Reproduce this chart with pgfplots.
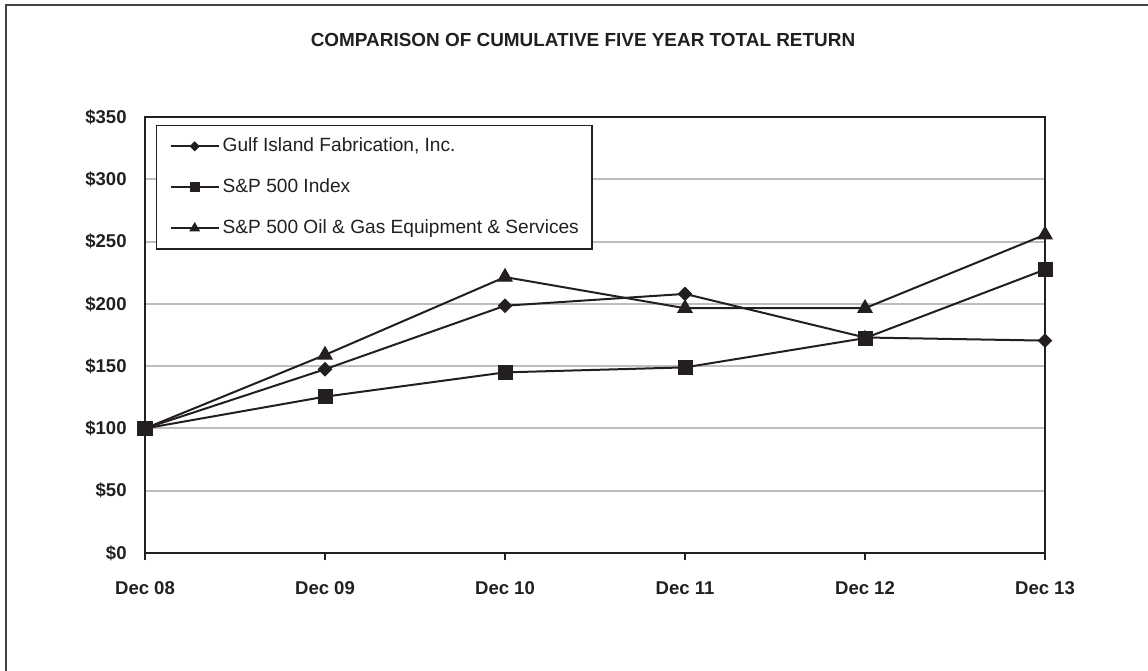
\documentclass[border=0pt]{standalone}
\usepackage{pgfplots}
\pgfplotsset{compat=1.18}
\usepackage{fontspec}
\setmainfont{Liberation Sans}
\definecolor{ink}{RGB}{35,31,32}
\definecolor{gridc}{RGB}{190,190,190}
\begin{document}
\begin{tikzpicture}
\useasboundingbox (-72.5bp,-59bp) rectangle (501.5bp,276.5bp);
\draw[line width=1bp, color=ink!85] (-69.5bp,-62bp) -- (-69.5bp,273.8bp) -- (505bp,273.8bp);
\node[font=\bfseries\fontsize{9.5}{11}\selectfont, text=ink] at (219bp,256.5bp) {COMPARISON OF CUMULATIVE FIVE YEAR TOTAL RETURN};
\begin{axis}[
  at={(0,0)}, anchor=south west,
  scale only axis, width=450bp, height=218bp,
  xmin=0, xmax=5, ymin=0, ymax=350,
  xtick={0,1,2,3,4,5},
  xticklabels={Dec 08,Dec 09,Dec 10,Dec 11,Dec 12,Dec 13},
  ytick={0,50,100,150,200,250,300,350},
  yticklabels={\$0,\$50,\$100,\$150,\$200,\$250,\$300,\$350},
  xtick pos=bottom, ytick pos=left,
  xtick align=outside, ytick align=inside,
  major tick length=3.5bp,
  xtick style={draw=ink, line width=1bp},
  ytick style={draw=none},
  ymajorgrids, grid style={draw=gridc, line width=1bp},
  axis line style={draw=ink, line width=1bp},
  /pgf/number format/assume math mode=true,
  tick label style={font=\bfseries\fontsize{9.3}{11}\selectfont, text=ink},
  xticklabel style={anchor=base, inner sep=0pt, yshift=-17.3bp},
  yticklabel style={anchor=east, inner sep=0pt, xshift=-9bp},
  legend style={at={(0,1)}, anchor=north west, xshift=5.5bp, yshift=-4bp,
    draw=ink, line width=0.7bp, fill=white,
    inner xsep=6.5bp, inner ysep=5.8bp, row sep=11.5bp,
    nodes={inner sep=0pt, text height=7bp, text depth=2bp, text=ink},
    font=\fontsize{9.6}{11}\selectfont},
  legend cell align=left,
  legend image code/.code={\draw[mark repeat=2,mark phase=2, line width=1bp] plot coordinates {(0bp,0bp)(12bp,0bp)(24bp,0bp)};},
  legend image post style={every mark/.append style={scale=0.65}},
  clip=false,
]
\addplot[ink, line width=1bp, mark=square*, mark size=2.35bp, mark options={rotate=45, fill=ink, line width=0.5bp}]
  coordinates {(0,100) (1,147.5) (2,198.5) (3,208) (4,173) (5,170.5)};
\addlegendentry{\hspace{1.5bp}Gulf Island Fabrication, Inc.}
\addplot[ink, line width=1bp, mark=square*, mark size=3.5bp, mark options={fill=ink, line width=0.5bp}]
  coordinates {(0,100) (1,125.5) (2,145) (3,149) (4,172.5) (5,227.5)};
\addlegendentry{\hspace{1.5bp}S\&P 500 Index}
\addplot[ink, line width=1bp, mark=triangle*, mark size=4.1bp, mark options={fill=ink, line width=0.5bp}]
  coordinates {(0,100) (1,159) (2,221.5) (3,196.5) (4,196.5) (5,255.5)};
\addlegendentry{\hspace{1.5bp}S\&P 500 Oil \& Gas Equipment \& Services\hspace{3bp}}
\end{axis}
\end{tikzpicture}
\end{document}
